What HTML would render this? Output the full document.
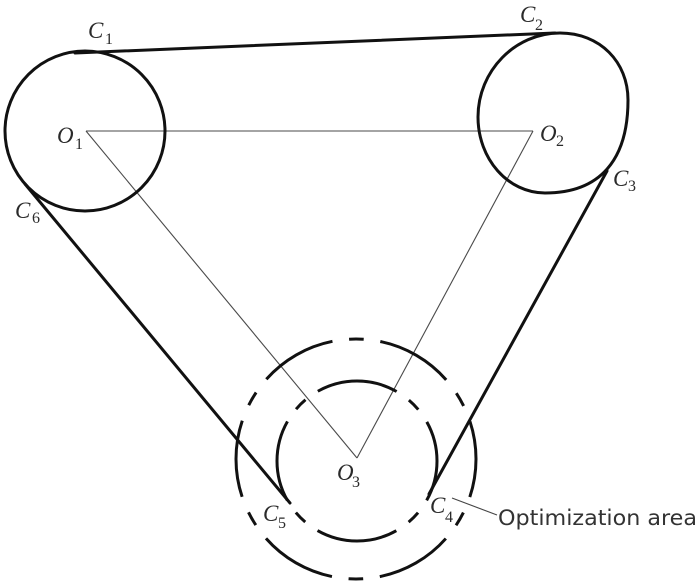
<!DOCTYPE html>
<html>
<head>
<meta charset="utf-8">
<style>
  html, body { margin: 0; padding: 0; background: #ffffff; }
  body { width: 700px; height: 588px; overflow: hidden; }
  svg { display: block; }
  .m { font-family: "Liberation Serif", "DejaVu Serif", serif; font-style: italic; fill: #2a2a2a; }
  .s { font-family: "Liberation Serif", "DejaVu Serif", serif; font-style: normal; fill: #2a2a2a; }
</style>
</head>
<body>
<svg width="700" height="588" viewBox="0 0 700 588" xmlns="http://www.w3.org/2000/svg">
  <rect width="700" height="588" fill="#ffffff"/>

  <!-- thin center lines -->
  <g stroke="#4a4a4a" stroke-width="1.1" fill="none">
    <line x1="86" y1="131" x2="533" y2="131"/>
    <line x1="86" y1="131" x2="357" y2="458"/>
    <line x1="533" y1="131" x2="357" y2="458"/>
  </g>

  <!-- thick belt and pulleys -->
  <g stroke="#111" stroke-width="3" fill="none" stroke-linecap="round">
    <circle cx="85" cy="131" r="80"/>
    <path d="M560,33 C600,33 628,62 628,100 C628,160 600,193 545,193 C508,193 478,159 478,117 C478,71 515,33 560,33 Z"/>
    <line x1="75" y1="53" x2="555" y2="33"/>
    <line x1="25" y1="184" x2="290" y2="503"/>
    <line x1="607" y1="171" x2="429" y2="494"/>
  </g>

  <!-- dashed circles (optimization area) -->
  <g stroke="#111" stroke-width="3" fill="none">
    <circle cx="356" cy="459" r="120" stroke-dasharray="77.5 16.75 14.7 16.75" stroke-dashoffset="38.75"/>
    <circle cx="357" cy="461" r="80" stroke-dasharray="82.4 15 13.3 15" stroke-dashoffset="41.2"/>
  </g>

  <!-- leader line -->
  <line x1="452" y1="498" x2="497" y2="515" stroke="#444" stroke-width="1.1"/>

  <!-- labels -->
  <text class="m" x="88" y="38" font-size="23">C</text><text class="s" x="105" y="44" font-size="16">1</text>
  <text class="m" x="520" y="22" font-size="23">C</text><text class="s" x="535" y="30" font-size="16">2</text>
  <text class="m" x="57" y="143" font-size="23">O</text><text class="s" x="75" y="149" font-size="16">1</text>
  <text class="m" x="540" y="141" font-size="23">O</text><text class="s" x="556" y="146" font-size="16">2</text>
  <text class="m" x="613" y="186" font-size="23">C</text><text class="s" x="628" y="191" font-size="16">3</text>
  <text class="m" x="15" y="218" font-size="23">C</text><text class="s" x="32" y="223" font-size="16">6</text>
  <text class="m" x="337" y="480" font-size="23">O</text><text class="s" x="352" y="487" font-size="16">3</text>
  <text class="m" x="263" y="521" font-size="23">C</text><text class="s" x="278" y="528" font-size="16">5</text>
  <text class="m" x="430" y="513" font-size="23">C</text><text class="s" x="445" y="522" font-size="16">4</text>

  <text x="498" y="525" font-family="DejaVu Sans, Liberation Sans, sans-serif" font-size="21" fill="#333" textLength="199" lengthAdjust="spacingAndGlyphs">Optimization area</text>
</svg>
</body>
</html>
